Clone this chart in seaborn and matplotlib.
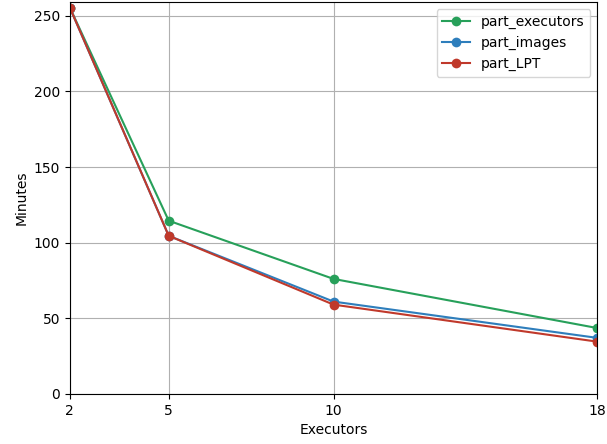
import pandas as pd
import matplotlib
matplotlib.use("Agg")
import matplotlib.pyplot as plt
import seaborn as sns

# Data
executors = [2, 5, 10, 18]
part_executors = [255.5, 114.5, 76.0, 43.5]
part_images = [255.5, 104.5, 61.0, 37.0]
part_lpt = [255.5, 104.5, 59.0, 34.5]

series_names = ["part_executors", "part_images", "part_LPT"]
colors = {"part_executors": "#27a05a", "part_images": "#2e7ebc", "part_LPT": "#c0392b"}

df = pd.DataFrame({
    "Executors": executors * 3,
    "Minutes": part_executors + part_images + part_lpt,
    "series": [s for s in series_names for _ in executors],
})

fig, ax = plt.subplots(figsize=(6.07, 4.44), dpi=100)
fig.subplots_adjust(left=0.115, right=0.984, bottom=0.113, top=0.995)

sns.lineplot(data=df, x="Executors", y="Minutes", hue="series",
             hue_order=series_names, palette=colors, marker="o",
             markersize=7, markeredgewidth=0, linewidth=1.5, ax=ax)

ax.set_xlim(2, 18)
ax.set_ylim(0, 259)
ax.set_xticks(executors)
ax.grid(True, color="#b0b0b0", linewidth=0.8)
ax.legend(title=None, loc="upper right")
ax.set_xlabel("Executors")
ax.set_ylabel("Minutes")

fig.savefig("out.png", dpi=100)
